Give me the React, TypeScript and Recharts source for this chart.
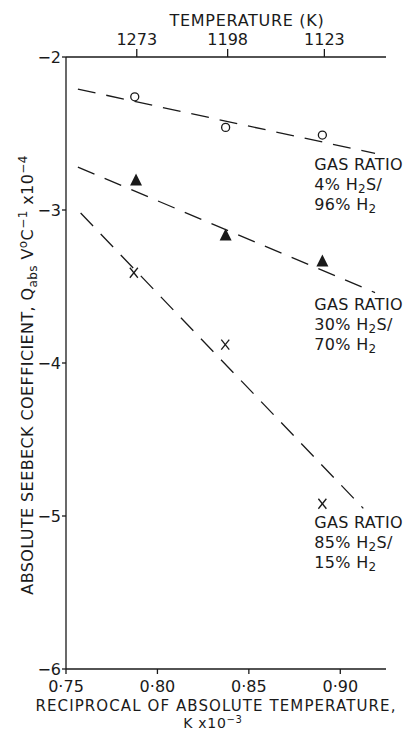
import React from "react";
import { ComposedChart, XAxis, YAxis, Scatter, ReferenceLine, Label } from "recharts";

// reciprocal temperature (K^-1 x 10^-3) on the bottom, temperature (K) on top
const reciprocalTicks = [0.75, 0.8, 0.85, 0.9];
const temperatureTicks = [1273, 1198, 1123];
// where the temperature ticks sit on the reciprocal scale, as drawn
const temperatureTickPos = [0.7887, 0.8384, 0.8913];
const seebeckTicks = [-6, -5, -4, -3, -2];

// measured points, Q_abs (V/degC x 10^-4)
const ratio4 = [
  { x: 0.7876, y: -2.26 },
  { x: 0.8373, y: -2.46 },
  { x: 0.8902, y: -2.51 },
];
const ratio30 = [
  { x: 0.7883, y: -2.8 },
  { x: 0.8373, y: -3.16 },
  { x: 0.8902, y: -3.33 },
];
const ratio85 = [
  { x: 0.7871, y: -3.41 },
  { x: 0.8371, y: -3.88 },
  { x: 0.8902, y: -4.92 },
];

// dashed fitted lines (end points)
const fit4 = [{ x: 0.7565, y: -2.21 }, { x: 0.919, y: -2.63 }];
const fit30 = [{ x: 0.7565, y: -2.72 }, { x: 0.919, y: -3.54 }];
const fit85 = [{ x: 0.758, y: -3.02 }, { x: 0.9126, y: -4.95 }];

const gasLabels = [
  { x: 0.8858, y: -2.739, lines: ["GAS RATIO", "4% H₂S/", "96% H₂"] },
  { x: 0.8858, y: -3.654, lines: ["GAS RATIO", "30% H₂S/", "70% H₂"] },
  { x: 0.8858, y: -5.078, lines: ["GAS RATIO", "85% H₂S/", "15% H₂"] },
];

const ink = "#1a1a1a";
const font = "'DejaVu Sans', sans-serif";
const dash = "18 11";

const OpenCircle = (p: any) => (
  <circle cx={p.cx} cy={p.cy} r={4} fill="#fff" stroke={ink} strokeWidth={1.3} />
);

const FilledTriangle = (p: any) => (
  <polygon
    points={`${p.cx},${p.cy - 6} ${p.cx + 6},${p.cy + 6} ${p.cx - 6},${p.cy + 6}`}
    fill={ink}
  />
);

const Cross = (p: any) => (
  <g stroke={ink} strokeWidth={1.3}>
    <line x1={p.cx - 4} y1={p.cy - 5} x2={p.cx + 4} y2={p.cy + 5} />
    <line x1={p.cx + 4} y1={p.cy - 5} x2={p.cx - 4} y2={p.cy + 5} />
  </g>
);

// text with "₂" drawn as a real subscript
const withSub = (s: string, key: string) => {
  const parts = s.split("₂");
  const out: React.ReactNode[] = [];
  parts.forEach((part, i) => {
    if (i > 0) {
      out.push(
        <tspan key={key + "s" + i} dy={3} fontSize={12}>
          2
        </tspan>
      );
      out.push(
        <tspan key={key + "r" + i} dy={-3}>
          {part}
        </tspan>
      );
    } else {
      out.push(<tspan key={key + "p" + i}>{part}</tspan>);
    }
  });
  return out;
};

const GasLabel = (p: any) => {
  const lines: string[] = p.payload.lines;
  return (
    <g>
      {lines.map((line, i) => (
        <text
          key={i}
          x={p.cx}
          y={p.cy + i * 20}
          fontSize={16}
          letterSpacing={0.3}
          fontFamily={font}
          fill={ink}
        >
          {withSub(line, "l" + i)}
        </text>
      ))}
    </g>
  );
};

const YTitle = (props: any) => {
  const vb = props.viewBox;
  const cx = vb.x + 33;
  const cy = vb.y + vb.height / 2 + 12;
  return (
    <text
      x={cx}
      y={cy}
      transform={`rotate(-90 ${cx} ${cy})`}
      textAnchor="middle"
      fontSize={16}
      letterSpacing={0.4}
      fontFamily={font}
      fill={ink}
    >
      <tspan>ABSOLUTE SEEBECK COEFFICIENT, Q</tspan>
      <tspan dy={4} fontSize={12}>abs</tspan>
      <tspan dy={-4}> V</tspan>
      <tspan dy={-6} fontSize={12}>o</tspan>
      <tspan dy={6}>C</tspan>
      <tspan dy={-6} fontSize={12}>−1</tspan>
      <tspan dy={6}> x10</tspan>
      <tspan dy={-6} fontSize={12}>−4</tspan>
    </text>
  );
};

const BottomTitle = (props: any) => {
  const vb = props.viewBox;
  const mid = vb.x + vb.width / 2;
  return (
    <g fontFamily={font} fill={ink}>
      <text x={mid - 10} y={vb.y + 42} textAnchor="middle" fontSize={15} letterSpacing={1.1}>
        RECIPROCAL OF ABSOLUTE TEMPERATURE,
      </text>
      <text x={mid - 13} y={vb.y + 59} textAnchor="middle" fontSize={14} letterSpacing={0.7}>
        <tspan>K x10</tspan>
        <tspan dy={-5} fontSize={10}>−3</tspan>
      </text>
    </g>
  );
};

const TopTitle = (props: any) => {
  const vb = props.viewBox;
  const mid = vb.x + vb.width / 2;
  return (
    <text
      x={mid + 21}
      y={vb.y + 26}
      textAnchor="middle"
      fontSize={16}
      letterSpacing={0.7}
      fontFamily={font}
      fill={ink}
    >
      TEMPERATURE (K)
    </text>
  );
};

const tickStyle = { fontSize: 16, fontFamily: font, fill: ink };

export default function App() {
  return (
    <div style={{ position: "absolute", left: 0, top: 0, width: 410, height: 730, background: "#fff" }}>
      <ComposedChart width={410} height={730} margin={{ top: 0, right: 24, bottom: 0, left: 0 }}>
        <XAxis
          xAxisId="bottom"
          type="number"
          dataKey="x"
          domain={[0.75, 0.925]}
          ticks={reciprocalTicks}
          height={61}
          tickSize={5}
          tickMargin={7}
          tick={tickStyle}
          stroke={ink}
          strokeWidth={1.3}
          tickFormatter={(v: number) => v.toFixed(2).replace(".", "·")}
        >
          <Label content={BottomTitle} />
        </XAxis>
        <XAxis
          xAxisId="top"
          orientation="top"
          type="number"
          dataKey="x"
          domain={[0.75, 0.925]}
          allowDataOverflow
          ticks={temperatureTickPos}
          height={57}
          tickSize={8}
          tickMargin={4}
          tick={tickStyle}
          stroke={ink}
          strokeWidth={1.3}
          tickFormatter={(v: number, i: number) => String(temperatureTicks[i] ?? Math.round(1000 / v))}
        >
          <Label content={TopTitle} />
        </XAxis>
        <YAxis
          type="number"
          dataKey="y"
          domain={[-6, -2]}
          ticks={seebeckTicks}
          width={66}
          tickSize={4}
          tickMargin={1}
          tick={tickStyle}
          stroke={ink}
          strokeWidth={1.3}
          tickFormatter={(v: number) => String(v).replace("-", "−")}
        >
          <Label content={YTitle} />
        </YAxis>

        <ReferenceLine xAxisId="bottom" segment={fit4} stroke={ink} strokeWidth={1.3} strokeDasharray={dash} />
        <ReferenceLine xAxisId="bottom" segment={fit30} stroke={ink} strokeWidth={1.3} strokeDasharray={dash} />
        <ReferenceLine xAxisId="bottom" segment={fit85} stroke={ink} strokeWidth={1.3} strokeDasharray={dash} />

        <Scatter xAxisId="bottom" data={ratio4} shape={OpenCircle} isAnimationActive={false} />
        <Scatter xAxisId="bottom" data={ratio30} shape={FilledTriangle} isAnimationActive={false} />
        <Scatter xAxisId="bottom" data={ratio85} shape={Cross} isAnimationActive={false} />
        <Scatter xAxisId="bottom" data={gasLabels} shape={GasLabel} isAnimationActive={false} />
      </ComposedChart>
    </div>
  );
}
